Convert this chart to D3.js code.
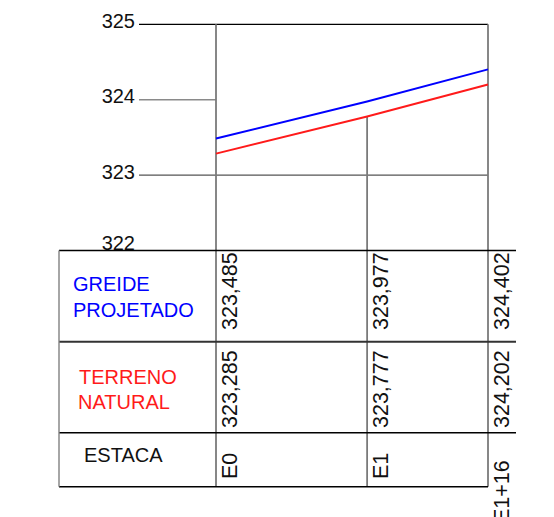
<!DOCTYPE html>
<html><head><meta charset="utf-8">
<script src="https://cdn.jsdelivr.net/npm/d3@7"></script>
<style>body{margin:0;background:#fff}svg{display:block}text{font-family:"Liberation Sans",Arial,sans-serif}</style>
</head><body><svg id="c" width="554" height="517"></svg>
<script>
const stations = ["E0", "E1", "E1+16"];
const distances = [0, 20, 36];
const greide = [323.485, 323.977, 324.402];
const terreno = [323.285, 323.777, 324.202];
const yTicks = [322, 323, 324, 325];
const rowLabels = [["GREIDE", "PROJETADO"], ["TERRENO", "NATURAL"], ["ESTACA"]];

const svg = d3.select("#c");
const x = d3.scaleLinear().domain([0, 36]).range([216, 488]);
const y = d3.scaleLinear().domain([322, 325]).range([250.5, 24.3]);

// table geometry
const tLeft = 59, tRight = 516, rows = [250.5, 341.7, 432.7, 486.7];

// horizontal grid lines
svg.append("line").attr("x1", 139).attr("x2", x(36)).attr("y1", y(325)).attr("y2", y(325)).attr("stroke", "#000").attr("stroke-width", 1.3);
svg.append("line").attr("x1", 139).attr("x2", x(0)).attr("y1", y(324)).attr("y2", y(324)).attr("stroke", "#8a8a8a").attr("stroke-width", 1.6);
svg.append("line").attr("x1", 139).attr("x2", x(36)).attr("y1", y(323)).attr("y2", y(323)).attr("stroke", "#555").attr("stroke-width", 1.2);

// y axis labels
const ax = svg.append("g").attr("transform", "translate(137,0)").call(d3.axisLeft(y).tickValues(yTicks).tickSize(0).tickPadding(2).tickFormat(d3.format("d")));
ax.select(".domain").remove();
ax.selectAll("text").attr("font-size", 20).attr("fill", "#111").attr("font-family", "Liberation Sans, Arial, sans-serif")
  .attr("dy", d => d === 322 ? "-0.05em" : "0.15em");

// vertical lines
distances.forEach((d, i) => {
  const top = i === 1 ? y(terreno[1]) : y(325);
  svg.append("line").attr("x1", x(d)).attr("x2", x(d)).attr("y1", top).attr("y2", rows[3]).attr("stroke", "#7a7a7a").attr("stroke-width", 1.8);
});

// profile lines
const line = d3.line().x((d, i) => x(distances[i])).y(d => y(d));
svg.append("path").datum(greide).attr("d", line).attr("fill", "none").attr("stroke", "#0000ff").attr("stroke-width", 2);
svg.append("path").datum(terreno).attr("d", line).attr("fill", "none").attr("stroke", "#ff1a1a").attr("stroke-width", 2);

// table lines
svg.append("line").attr("x1", tLeft).attr("x2", tRight).attr("y1", rows[0]).attr("y2", rows[0]).attr("stroke", "#000").attr("stroke-width", 1.4);
svg.append("line").attr("x1", tLeft).attr("x2", tRight).attr("y1", rows[1]).attr("y2", rows[1]).attr("stroke", "#333").attr("stroke-width", 2);
svg.append("line").attr("x1", tLeft).attr("x2", tRight).attr("y1", rows[2]).attr("y2", rows[2]).attr("stroke", "#000").attr("stroke-width", 1.4);
svg.append("line").attr("x1", tLeft).attr("x2", x(36)).attr("y1", rows[3]).attr("y2", rows[3]).attr("stroke", "#000").attr("stroke-width", 1.4);
svg.append("line").attr("x1", tLeft).attr("x2", tLeft).attr("y1", rows[0]).attr("y2", rows[3]).attr("stroke", "#808080").attr("stroke-width", 1.4);

// row labels
const labelColors = ["#0000ff", "#ff1a1a", "#111"];
const labelX = [73, 79, 84];
const labelY = [[291, 317], [384, 409], [462]];
rowLabels.forEach((lines, r) => {
  lines.forEach((t, k) => {
    svg.append("text").attr("x", labelX[r] + (r === 1 && k === 1 ? -1 : 0)).attr("y", labelY[r][k])
      .attr("font-size", 20).attr("fill", labelColors[r]).text(t);
  });
});

// rotated values
const fmt = v => d3.format(".3f")(v).replace(".", ",");
const rowStart = [330, 428, 479];
distances.forEach((d, i) => {
  const vals = [fmt(greide[i]), fmt(terreno[i]), stations[i]];
  vals.forEach((t, r) => {
    const bx = x(d) + 21;
    const by = (i === 2 && r === 2) ? 523 : rowStart[r];
    svg.append("text").attr("transform", `translate(${bx},${by}) rotate(-90)`)
      .attr("font-size", 21.5).attr("fill", "#111").text(t);
  });
});
</script></body></html>
